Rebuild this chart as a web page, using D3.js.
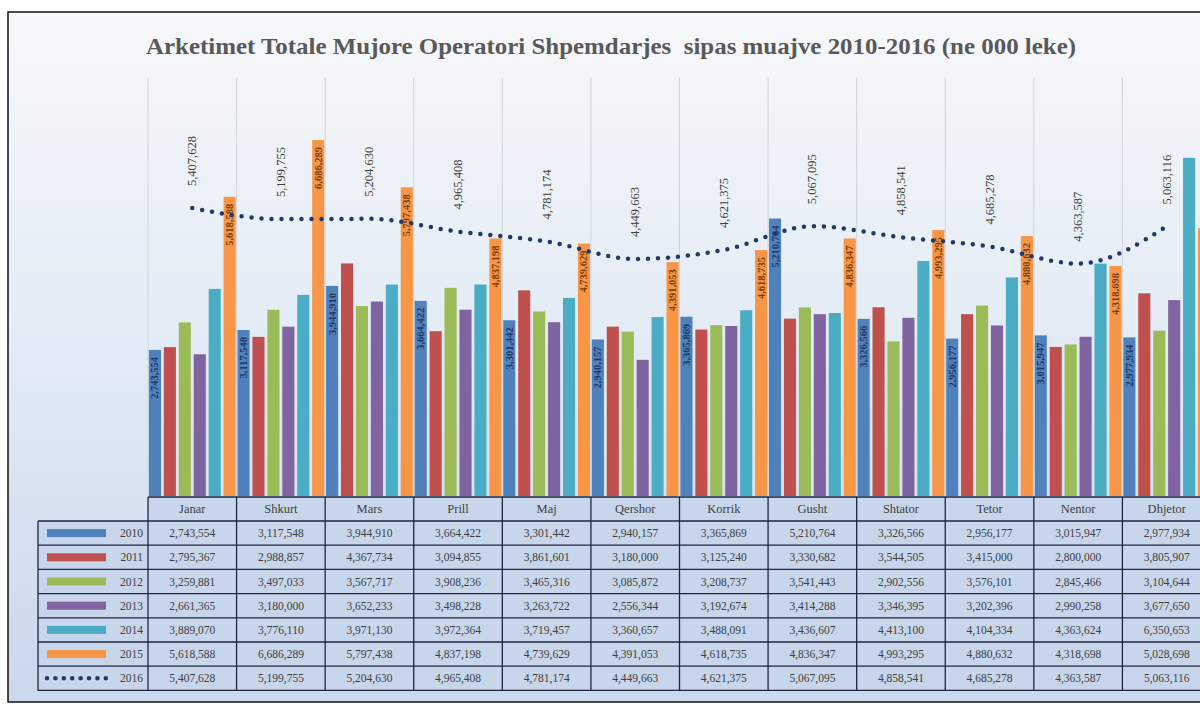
<!DOCTYPE html>
<html>
<head>
<meta charset="utf-8">
<script src="https://cdn.jsdelivr.net/npm/d3@7"></script>
<style>
  body { margin: 0; background: #fff; overflow: hidden; }
  text { font-family: "Liberation Serif", "DejaVu Serif", serif; }
</style>
</head>
<body>
<div class="ch"></div>
<script>
var months = ["Janar", "Shkurt", "Mars", "Prill", "Maj", "Qershor", "Korrik", "Gusht", "Shtator", "Tetor", "Nentor", "Dhjetor"];
var years = ["2010", "2011", "2012", "2013", "2014", "2015", "2016"];
var barYears = ["2010", "2011", "2012", "2013", "2014", "2015"];

var v2010 = [2743554, 3117548, 3944910, 3664422, 3301442, 2940157, 3365869, 5210764, 3326566, 2956177, 3015947, 2977934];
var v2011 = [2795367, 2988857, 4367734, 3094855, 3861601, 3180000, 3125240, 3330682, 3544505, 3415000, 2800000, 3805907];
var v2012 = [3259881, 3497033, 3567717, 3908236, 3465316, 3085872, 3208737, 3541443, 2902556, 3576101, 2845466, 3104644];
var v2013 = [2661365, 3180000, 3652233, 3498228, 3263722, 2556344, 3192674, 3414288, 3346395, 3202396, 2990258, 3677650];
var v2014 = [3889070, 3776110, 3971130, 3972364, 3719457, 3360657, 3488091, 3436607, 4413100, 4104334, 4363624, 6350653];
var v2015 = [5618588, 6686289, 5797438, 4837198, 4739629, 4391053, 4618735, 4836347, 4993295, 4880632, 4318698, 5028698];
var v2016 = [5407628, 5199755, 5204630, 4965408, 4781174, 4449663, 4621375, 5067095, 4858541, 4685278, 4363587, 5063116];

var colors = ["#4f81bd", "#c0504d", "#9bbb59", "#8064a2", "#4bacc6", "#f79646", "#1f3a68"];
var series = [v2010, v2011, v2012, v2013, v2014, v2015, v2016];

var W = 1200, H = 706;
var plotLeft = 148, plotRight = 1211, plotTop = 70, baseY = 496;
var tableTop = 497, headH = 24, rowH = 24.2, legLeft = 38;
var fmt = d3.format(",");

var svg = d3.select(".ch").append("svg")
    .attr("width", W)
    .attr("height", H);

// background gradient
var grad = svg.append("defs").append("linearGradient")
    .attr("id", "bg").attr("x1", 0).attr("y1", 0).attr("x2", 0).attr("y2", 1);
grad.append("stop").attr("offset", "0%").attr("stop-color", "#f7f8fa");
grad.append("stop").attr("offset", "45%").attr("stop-color", "#e4ecf6");
grad.append("stop").attr("offset", "100%").attr("stop-color", "#c9d8ec");

svg.append("rect")
    .attr("x", 8).attr("y", 12)
    .attr("width", 1220).attr("height", 690)
    .attr("fill", "url(#bg)")
    .attr("stroke", "#111").attr("stroke-width", 1.5);

var x0 = d3.scaleBand().domain(months).range([plotLeft, plotRight]);
var x1 = d3.scaleBand().domain(barYears).range([0, x0.bandwidth()])
    .paddingInner(0.19).paddingOuter(0.06);
var y = d3.scaleLinear().domain([0, 8000000]).range([baseY, plotTop]);

// vertical gridlines at category boundaries
svg.append("g").selectAll("line")
    .data(months)
    .enter().append("line")
    .attr("x1", function (d) { return x0(d); })
    .attr("x2", function (d) { return x0(d); })
    .attr("y1", 78).attr("y2", baseY)
    .attr("stroke", "#cfd5dd").attr("stroke-width", 1);

// title
svg.append("text")
    .attr("x", 611).attr("y", 54)
    .attr("text-anchor", "middle")
    .style("white-space", "pre")
    .attr("font-size", 24).attr("font-weight", "bold")
    .attr("textLength", 930).attr("lengthAdjust", "spacingAndGlyphs")
    .attr("fill", "#595959")
    .text("Arketimet Totale Mujore Operatori Shpemdarjes  sipas muajve 2010-2016 (ne 000 leke)");

// bars
var groups = svg.append("g").selectAll("g")
    .data(barYears)
    .enter().append("g")
    .attr("fill", function (d, i) { return colors[i]; });

groups.selectAll("rect")
    .data(function (d, i) { return series[i].map(function (v, j) { return { yr: d, m: months[j], v: v }; }); })
    .enter().append("rect")
    .attr("x", function (d) { return x0(d.m) + x1(d.yr); })
    .attr("y", function (d) { return y(d.v); })
    .attr("width", x1.bandwidth())
    .attr("height", function (d) { return baseY - y(d.v); });

// data labels inside the 2010 and 2015 bars
[[0, "#1f3864"], [5, "#7a3e0c"]].forEach(function (s) {
    var yr = barYears[s[0]];
    svg.append("g").selectAll("text")
        .data(series[s[0]])
        .enter().append("text")
        .attr("transform", function (d, j) {
            var cx = x0(months[j]) + x1(yr) + x1.bandwidth() / 2 + 3.5;
            return "translate(" + cx + "," + (y(d) + 7) + ") rotate(-90)";
        })
        .attr("text-anchor", "end")
        .attr("font-size", 10.5).attr("font-weight", "bold")
        .attr("fill", s[1])
        .text(function (d) { return fmt(d); });
});

// 2016 dotted line
var line = d3.line()
    .x(function (d, j) { return x0(months[j]) + x0.bandwidth() / 2; })
    .y(function (d) { return y(d); })
    .curve(d3.curveMonotoneX);

svg.append("path")
    .datum(v2016)
    .attr("d", line)
    .attr("fill", "none")
    .attr("stroke", colors[6])
    .attr("stroke-width", 4.5)
    .attr("stroke-linecap", "round")
    .attr("stroke-dasharray", "0,10");

svg.append("g").selectAll("text")
    .data(v2016)
    .enter().append("text")
    .attr("transform", function (d, j) {
        var cx = x0(months[j]) + x0.bandwidth() / 2 + 4;
        return "translate(" + cx + "," + (y(d) - 22) + ") rotate(-90)";
    })
    .attr("font-size", 12.5)
    .attr("fill", "#404040")
    .text(function (d) { return fmt(d); });

// data table
var table = svg.append("g");
var tableBottom = tableTop + headH + rowH * years.length;

table.append("rect")
    .attr("x", plotLeft).attr("y", tableTop)
    .attr("width", plotRight - plotLeft + 20).attr("height", headH)
    .attr("fill", "#c7d6ea");
table.append("rect")
    .attr("x", legLeft).attr("y", tableTop + headH)
    .attr("width", plotRight - legLeft + 20).attr("height", rowH * years.length)
    .attr("fill", "#c7d6ea");

// horizontal rules
var hy = [tableTop];
for (var r = 0; r <= years.length; r++) hy.push(tableTop + headH + r * rowH);
table.selectAll("line.h")
    .data(hy)
    .enter().append("line")
    .attr("x1", function (d, i) { return i === 0 ? plotLeft : legLeft; })
    .attr("x2", 1230)
    .attr("y1", function (d) { return d; })
    .attr("y2", function (d) { return d; })
    .attr("stroke", "#1c2740").attr("stroke-width", 1.3);

// vertical rules
table.selectAll("line.v")
    .data(months.concat(["end"]))
    .enter().append("line")
    .attr("x1", function (d) { return d === "end" ? plotRight : x0(d); })
    .attr("x2", function (d) { return d === "end" ? plotRight : x0(d); })
    .attr("y1", tableTop)
    .attr("y2", tableBottom)
    .attr("stroke", "#1c2740").attr("stroke-width", 1.3);
table.append("line")
    .attr("x1", legLeft).attr("x2", legLeft)
    .attr("y1", tableTop + headH).attr("y2", tableBottom)
    .attr("stroke", "#1c2740").attr("stroke-width", 1.3);

// month headers
table.selectAll("text.m")
    .data(months)
    .enter().append("text")
    .attr("x", function (d) { return x0(d) + x0.bandwidth() / 2; })
    .attr("y", tableTop + headH / 2 + 4)
    .attr("text-anchor", "middle")
    .attr("font-size", 12.5)
    .attr("fill", "#404040")
    .text(function (d) { return d; });

// rows
years.forEach(function (yr, i) {
    var cy = tableTop + headH + i * rowH + rowH / 2;
    var row = table.append("g");
    if (i < 6) {
        row.append("rect")
            .attr("x", 47).attr("y", cy - 4)
            .attr("width", 59).attr("height", 8)
            .attr("fill", colors[i]);
    } else {
        row.append("line")
            .attr("x1", 47).attr("x2", 106)
            .attr("y1", cy).attr("y2", cy)
            .attr("stroke", colors[6]).attr("stroke-width", 4.5)
            .attr("stroke-linecap", "round")
            .attr("stroke-dasharray", "0,8.4");
    }
    row.append("text")
        .attr("x", 143).attr("y", cy + 4)
        .attr("text-anchor", "end")
        .attr("font-size", 11.5)
        .attr("fill", "#404040")
        .text(yr);
    row.selectAll("text.v")
        .data(series[i])
        .enter().append("text")
        .attr("x", function (d, j) { return x0(months[j]) + x0.bandwidth() / 2; })
        .attr("y", cy + 4)
        .attr("text-anchor", "middle")
        .attr("font-size", 11.5)
        .attr("fill", "#404040")
        .text(function (d) { return fmt(d); });
});
</script>
</body>
</html>
